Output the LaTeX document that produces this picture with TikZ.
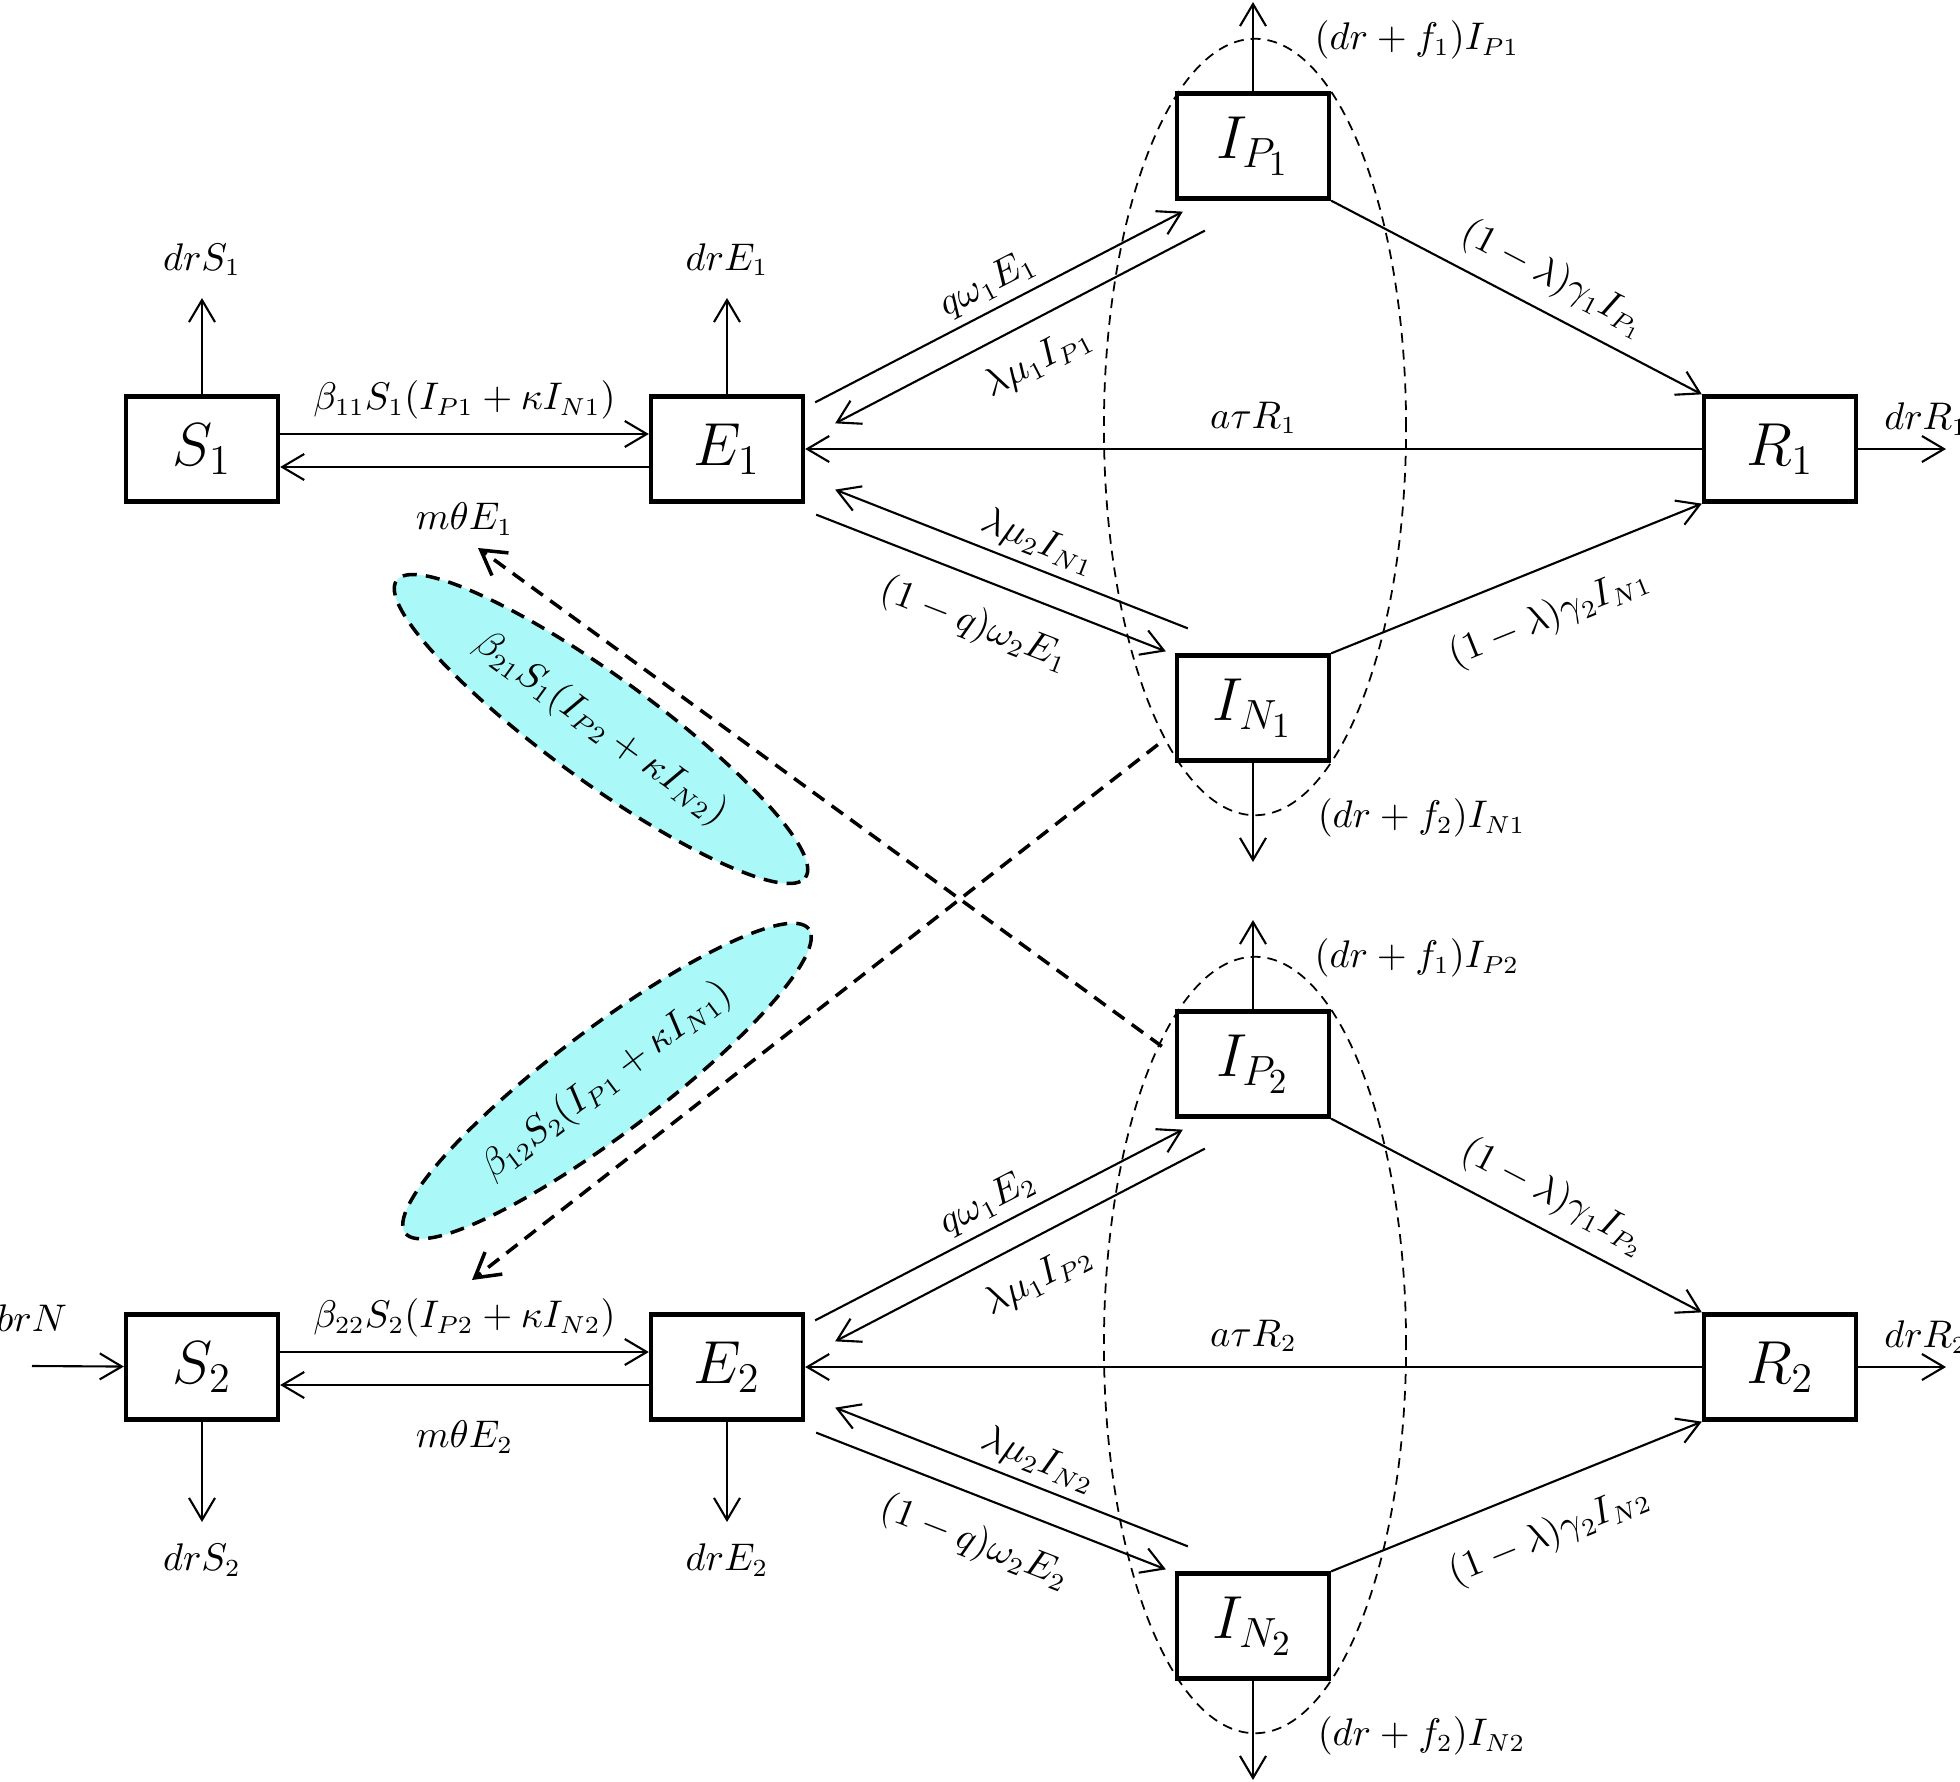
\documentclass[tikz,border=0pt]{standalone}
\usetikzlibrary{arrows.meta,calc,shapes.geometric}

\definecolor{blobcyan}{RGB}{170,248,248}

\tikzset{
    box/.style={draw, line width=1.2pt, fill=white, minimum width=1.52cm, minimum height=1.05cm, inner sep=0pt, font=\LARGE},
    lbl/.style={font=\fontsize{10.5}{12}\selectfont, inner sep=2pt},
    flow/.style={line width=0.6pt, -{Straight Barb[length=2.2mm,width=2.6mm]}},
    back/.style={line width=0.6pt, {Straight Barb[length=2.2mm,width=2.6mm]}-},
    group/.style={line width=0.5pt, dash pattern=on 2.8pt off 2pt},
    cross/.style={line width=1pt, dash pattern=on 4pt off 2.6pt, -{Straight Barb[length=2.4mm,width=2.8mm]}},
    blob/.style={ellipse, draw, line width=1pt, dash pattern=on 4pt off 2.6pt, fill=blobcyan, minimum width=5.05cm, minimum height=1.05cm, inner sep=0pt, font=\fontsize{10.5}{12}\selectfont}
}

\begin{document}
\begin{tikzpicture}[x=0.01cm, y=-0.01cm]
    \useasboundingbox (0,0) rectangle (1960,1782);

    % exposed, infected and recovered part of one patch
    \def\patchblock#1#2{%
        \draw[group] (1255,427+#2) ellipse [x radius=1.51cm, y radius=3.88cm];
        \node[box] (E#1)  at (727,449+#2)  {$E_#1$};
        \node[box] (IP#1) at (1253,146+#2) {$I_{P_#1}$};
        \node[box] (IN#1) at (1253,708+#2) {$I_{N_#1}$};
        \node[box] (R#1)  at (1780,449+#2) {$R_#1$};
        \coordinate (IP#1out) at (1253,2+#2);
        \coordinate (IN#1out) at (1253,862+#2);
        \coordinate (R#1out)  at (1946,449+#2);
        % E <-> I_P
        \draw[flow] ($(E#1.north east)+(10,8)$) -- node[lbl, above, sloped] {$q\omega_1E_#1$} ($(IP#1.south west)+(8,11)$);
        \draw[back] ($(E#1.north east)+(30,29)$) -- node[lbl, below=4pt, sloped] {$\lambda\mu_1I_{P#1}$} ($(IP#1.south west)+(30,30)$);
        % E <-> I_N
        \draw[back] ($(E#1.south east)+(30,-14)$) -- node[lbl, above, sloped, pos=0.55] {$\lambda\mu_2I_{N#1}$} ($(IN#1.north west)+(13,-25)$);
        \draw[flow] ($(E#1.south east)+(11,11)$) -- node[lbl, below=5pt, sloped] {$(1-q)\omega_2E_#1$} ($(IN#1.north west)+(-9,-2)$);
        % recovery and loss of immunity
        \draw[flow] (IP#1.south east) -- node[lbl, above=2pt, sloped, pos=0.56] {$(1-\lambda)\gamma_1I_{P_#1}$} (R#1.north west);
        \draw[flow] (IN#1.north east) -- node[lbl, below=6pt, sloped, pos=0.54] {$(1-\lambda)\gamma_2I_{N#1}$} (R#1.south west);
        \draw[flow] (R#1) -- node[lbl, above=2pt] {$a\tau R_#1$} (E#1);
        % deaths
        \draw[flow] (IP#1) -- (IP#1out);
        \draw[flow] (IN#1) -- (IN#1out);
        \draw[flow] (R#1) -- (R#1out);
        \node[lbl, anchor=west]  (dIP#1) at (1307,40+#2)  {$(dr+f_1)I_{P#1}$};
        \node[lbl, anchor=west]  (dIN#1) at (1310,818+#2) {$(dr+f_2)I_{N#1}$};
        \node[lbl, anchor=south] (dR#1)  at (1926,443+#2) {$drR_#1$};
    }

    \patchblock{1}{0}
    \patchblock{2}{918}

    % susceptibles, patch 1
    \node[box] (S1) at (202,449) {$S_1$};
    \coordinate (S1out) at (202,298);
    \coordinate (E1out) at (727,298);
    \draw[flow] (S1) -- (S1out) node[lbl, above=4pt] {$drS_1$};
    \draw[flow] (E1) -- (E1out) node[lbl, above=4pt] {$drE_1$};
    \draw[flow] ($(S1.east)+(0,-15)$) -- node[lbl, above=2pt] {$\beta_{11}S_1(I_{P1}+\kappa I_{N1})$} ($(E1.west)+(0,-15)$);
    \draw[back] ($(S1.east)+(0,18)$) -- node[lbl, below=8pt] {$m\theta E_1$} ($(E1.west)+(0,18)$);

    % susceptibles, patch 2
    \node[box] (S2) at (202,1367) {$S_2$};
    \coordinate (S2out) at (202,1522);
    \coordinate (E2out) at (727,1522);
    \coordinate (brNin) at (32,1366);
    \draw[flow] (S2) -- (S2out) node[lbl, below=4pt] {$drS_2$};
    \draw[flow] (E2) -- (E2out) node[lbl, below=4pt] {$drE_2$};
    \draw[flow] (brNin) -- (S2);
    \node[lbl] (brN) at (32,1318) {$brN$};
    \draw[flow] ($(S2.east)+(0,-15)$) -- node[lbl, above=2pt] {$\beta_{22}S_2(I_{P2}+\kappa I_{N2})$} ($(E2.west)+(0,-15)$);
    \draw[back] ($(S2.east)+(0,18)$) -- node[lbl, below=8pt] {$m\theta E_2$} ($(E2.west)+(0,18)$);

    % cross infection between the patches
    \node[blob, rotate=-36] (b21) at (601,729)  {$\beta_{21}S_1(I_{P2}+\kappa I_{N2})$};
    \node[blob, rotate=37]  (b12) at (607,1081) {$\beta_{12}S_2(I_{P1}+\kappa I_{N1})$};
    \coordinate (m1tip) at (478,548);
    \coordinate (b2tip) at (472,1280);
    \draw[cross] ($(IP2.north west)+(-13,37)$) -- (m1tip);
    \draw[cross] ($(IN1.south west)+(-17,-18)$) -- (b2tip);
\end{tikzpicture}
\end{document}
